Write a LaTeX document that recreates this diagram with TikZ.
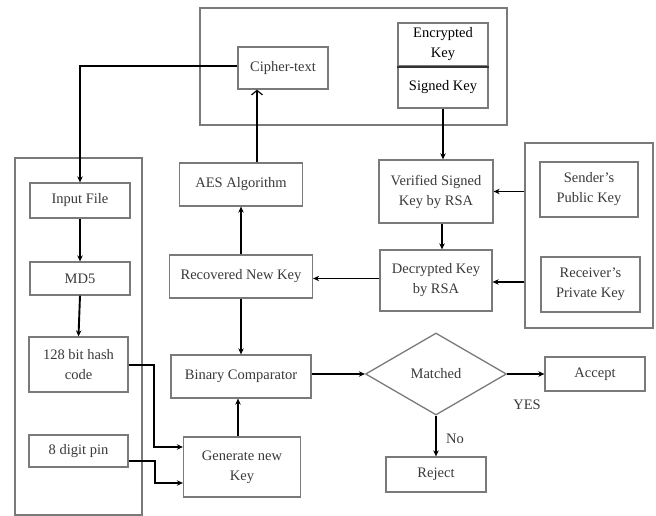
\documentclass[tikz,border=0pt]{standalone}
\usepackage{fontspec}
\setmainfont{Liberation Serif}
\usetikzlibrary{shapes.geometric,arrows.meta,calc}
\definecolor{boxgray}{HTML}{7A7A7A}
\definecolor{txtgray}{HTML}{3A3A3A}
\begin{document}
\begin{tikzpicture}[x=1pt,y=-1pt,
  txt/.style={text=txtgray, font=\fontsize{14.5}{20}\selectfont},
  box/.style={rectangle, draw=boxgray, line width=1.3pt, fill=white, txt, align=center, inner sep=0pt},
  group/.style={rectangle, draw=boxgray, line width=1.3pt, inner sep=0pt},
  flow/.style={draw=black, line width=1.9pt, -{Stealth[length=6pt,width=5.5pt]}},
  openflow/.style={draw=black, line width=1.9pt, -{Straight Barb[length=4.5pt,width=11pt,line width=1.2pt]}}
]
\useasboundingbox (0,0) rectangle (656,516);

% grouping frames
\node[group, minimum width=307pt, minimum height=117pt] (topgrp) at (353.5,66.5) {};
\node[group, minimum width=127pt, minimum height=357pt] (leftgrp) at (78.5,336.5) {};
\node[group, minimum width=128pt, minimum height=185pt] (rightgrp) at (589,235.5) {};

% transmitted data
\node[box, minimum width=90pt, minimum height=42pt] (ct) at (283,68) {Cipher-text};
\node[box, minimum width=90pt, minimum height=43pt, text=black] (enc) at (443,44.5) {Encrypted\\Key};
\node[box, minimum width=90pt, minimum height=42pt, text=black] (sig) at (443,87) {Signed Key};
\draw[line width=2.2pt, color=black!80] (enc.south west) -- (enc.south east);

% sender side
\node[box, minimum width=100pt, minimum height=35pt] (inp) at (80,200.5) {Input File};
\node[box, minimum width=100pt, minimum height=33pt] (md5) at (80,278.5) {MD5};
\node[box, minimum width=99pt, minimum height=55pt] (hash) at (78.5,364.5) {128 bit hash\\code};
\node[box, minimum width=99pt, minimum height=32pt] (pin) at (78.5,451) {8 digit pin};

% key recovery
\node[box, minimum width=123pt, minimum height=43pt] (aes) at (241,184.5) {AES Algorithm};
\node[box, minimum width=143pt, minimum height=43pt] (rec) at (241,276.5) {Recovered New Key};
\node[box, minimum width=140pt, minimum height=43pt] (bin) at (241,376.5) {Binary Comparator};
\node[box, minimum width=117pt, minimum height=60pt] (gen) at (242,467) {Generate new\\Key};

% RSA stages
\node[box, minimum width=114pt, minimum height=63pt] (ver) at (436,191.5) {Verified Signed\\Key by RSA};
\node[box, minimum width=112pt, minimum height=61pt] (dec) at (436,280.5) {Decrypted Key\\by RSA};
\node[box, minimum width=98pt, minimum height=55pt] (snd) at (589,189.5) {Sender's\\Public Key};
\node[box, minimum width=99pt, minimum height=55pt] (rcv) at (590.5,284.5) {Receiver's\\Private Key};

% decision
\node[diamond, draw=boxgray, line width=1.3pt, fill=white, txt, inner sep=0pt,
      minimum width=141pt, minimum height=82pt] (dia) at (436,374) {Matched\\[6pt]};
\node[box, minimum width=100pt, minimum height=34pt] (acc) at (595,374) {Accept};
\node[box, minimum width=100pt, minimum height=35pt] (rej) at (436,474.5) {Reject};
\node[txt, anchor=center] (yes) at (527,405) {YES};
\node[txt, anchor=center] (no) at (455,439) {No};

% connectors
\draw[flow] ([yshift=2pt]ct.west) -| (inp.north);
\draw[flow] (inp.south) -- (md5.north);
\draw[flow] (md5.south) -- (hash.north);
\draw[openflow] ([xshift=16pt]aes.north) -- ([xshift=16pt]aes.north |- ct.south);
\draw[flow] (sig.south) -- (sig.south |- ver.north);
\draw[flow] ([xshift=6pt]ver.south) -- ([xshift=6pt]dec.north);
\draw[flow] (rightgrp.west |- ver.east) -- (ver.east);
\draw[flow] ([yshift=-1.5pt]rightgrp.west |- dec.east) -- ([yshift=-1.5pt]dec.east);
\draw[flow] ([yshift=2pt]dec.west) -- ([yshift=2pt]dec.west -| rec.east);
\draw[flow] (rec.north) -- (aes.south);
\draw[flow] (rec.south) -- (rec.south |- bin.north);
\draw[flow] ([xshift=-4pt]gen.north) -- ([xshift=-4pt]gen.north |- bin.south);
\draw[flow] ([yshift=-0.5pt]hash.east) -- ++(25,0) |- ([yshift=20pt]gen.west);
\draw[flow] ([yshift=-10pt]pin.east) -- ++(26,0) |- ([yshift=-16pt]gen.west);
\draw[flow] (bin.east |- dia.west) -- (dia.west);
\draw[flow] (dia.east) -- (acc.west);
\draw[flow] (dia.south) -- (rej.north);
\end{tikzpicture}
\end{document}
